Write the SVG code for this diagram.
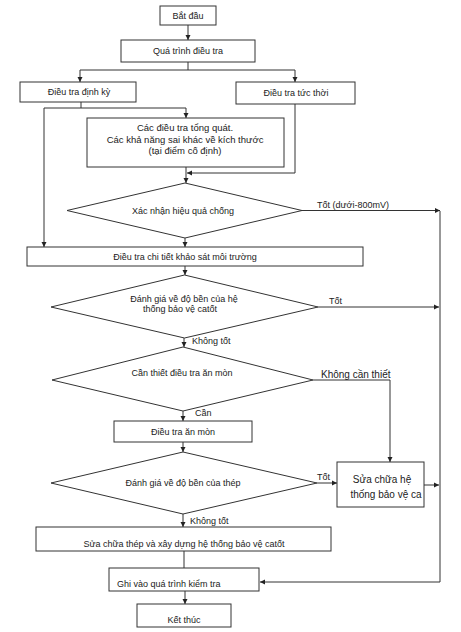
<svg xmlns="http://www.w3.org/2000/svg" width="461" height="632" viewBox="0 0 461 632">
<defs>
<marker id="ah" markerWidth="6" markerHeight="6" refX="5" refY="3" orient="auto" markerUnits="userSpaceOnUse">
<path d="M0,0.5 L5,3 L0,5.5 Z" fill="#222"/>
</marker>
<style>
.b{fill:#fff;stroke:#333;stroke-width:1}
.t{font-family:"Liberation Sans",Arial,sans-serif;font-size:9px;fill:#222;text-anchor:middle}
.c{fill:none;stroke:#333;stroke-width:1}
.a{marker-end:url(#ah)}
</style>
</defs>
<rect width="461" height="632" fill="#fff"/>
<g id="connectors">
<path class="c a" d="M188,25 V40"/>
<path class="c" d="M188,62 V70"/>
<path class="c a" d="M188,70 H80 V82"/>
<path class="c a" d="M188,70 H295 V82"/>
<path class="c a" d="M81,102 V108 H186 V118"/>
<path class="c a" d="M81,108 H44 V247"/>
<path class="c a" d="M295,104 V173 H187"/>
<path class="c a" d="M186,167 V183"/>
<path class="c a" d="M302,210.5 H440"/>
<path class="c a" d="M440,211 V582 H260"/>
<path class="c a" d="M185,238 V247"/>
<path class="c a" d="M185,266 V275"/>
<path class="c a" d="M318,307 H439"/>
<path class="c a" d="M184,338 V347"/>
<path class="c a" d="M313,380 H390 V462"/>
<path class="c a" d="M183,411 V421"/>
<path class="c a" d="M183,442 V452"/>
<path class="c a" d="M317,483 H337"/>
<path class="c a" d="M424,485 H439"/>
<path class="c a" d="M183,514 V527"/>
<path class="c" d="M184,551 V568"/>
<path class="c a" d="M185,591 V604"/>
<text class="t" x="317" y="208" style="text-anchor:start">Tốt (dưới-800mV)</text>
<text class="t" x="329" y="304" style="text-anchor:start">Tốt</text>
<text class="t" x="192" y="344" style="text-anchor:start">Không tốt</text>
<text class="t" x="321" y="378" style="text-anchor:start;font-size:10px">Không cần thiết</text>
<text class="t" x="195" y="416" style="text-anchor:start">Cần</text>
<text class="t" x="317" y="480" style="text-anchor:start">Tốt</text>
<text class="t" x="190" y="524" style="text-anchor:start">Không tốt</text>
</g>
<g id="start">
<rect class="b" x="160" y="6" width="56" height="19"/>
<text class="t" x="188" y="19">Bắt đầu</text>
</g>
<g id="process">
<rect class="b" x="121" y="40" width="134" height="22"/>
<text class="t" x="188" y="54">Quá trình điều tra</text>
</g>
<g id="periodic">
<rect class="b" x="20" y="82" width="116" height="20"/>
<text class="t" x="79" y="95">Điều tra định kỳ</text>
</g>
<g id="immediate">
<rect class="b" x="236" y="82" width="119" height="22"/>
<text class="t" x="296" y="96">Điều tra tức thời</text>
</g>
<g id="general">
<rect class="b" x="87" y="118" width="197" height="49"/>
<text class="t" x="185" y="131" style="font-size:9.5px">Các điều tra tổng quát.</text>
<text class="t" x="185" y="143" style="font-size:9.5px">Các khả năng sai khác về kích thước</text>
<text class="t" x="185" y="154" style="font-size:9.5px">(tại điểm cố định)</text>
</g>
<g id="confirm">
<polygon class="b" points="185,183 302,210.5 185,238 67,210.5"/>
<text class="t" x="183" y="214">Xác nhận hiệu quả chống</text>
</g>
<g id="detail">
<rect class="b" x="27" y="247" width="336" height="19"/>
<text class="t" x="185" y="260">Điều tra chi tiết khảo sát môi trường</text>
</g>
<g id="evalcp">
<polygon class="b" points="184.5,275 318,307 184.5,338 51,307"/>
<text class="t" x="184" y="302">Đánh giá về độ bền của hệ</text>
<text class="t" x="180" y="312">thống bảo vệ catốt</text>
</g>
<g id="need">
<polygon class="b" points="183,347 313,380 183,411 52,380"/>
<text class="t" x="182" y="376">Cần thiết điều tra ăn mòn</text>
</g>
<g id="corrosion">
<rect class="b" x="114" y="421" width="138" height="21"/>
<text class="t" x="183" y="435">Điều tra ăn mòn</text>
</g>
<g id="evalsteel">
<polygon class="b" points="183,452 317,483 183,514 51,483"/>
<text class="t" x="183" y="486">Đánh giá về độ bền của thép</text>
</g>
<g id="repaircp">
<rect class="b" x="337" y="462" width="87" height="45"/>
<text class="t" x="382" y="483" style="font-size:10px">Sửa chữa hệ</text>
<text class="t" x="386" y="498" style="font-size:10px">thống bảo vệ ca</text>
</g>
<g id="repairsteel">
<rect class="b" x="36" y="527" width="295" height="24"/>
<text class="t" x="184" y="547">Sửa chữa thép và xây dựng hệ thống bảo vệ catốt</text>
</g>
<g id="record">
<rect class="b" x="109" y="568" width="150" height="23"/>
<text class="t" x="117" y="587" style="text-anchor:start">Ghi vào quá trình kiểm tra</text>
</g>
<g id="end">
<rect class="b" x="137" y="604" width="94" height="23"/>
<text class="t" x="184" y="623">Kết thúc</text>
</g>
</svg>
